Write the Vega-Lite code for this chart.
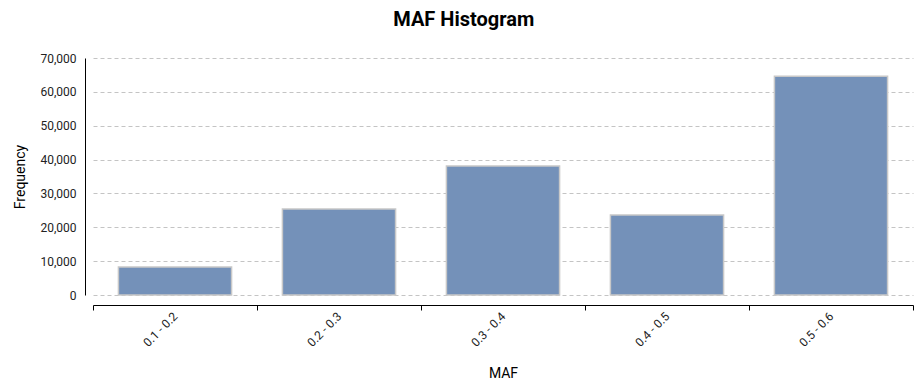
{
  "$schema": "https://vega.github.io/schema/vega-lite/v6.json",
  "width": 820,
  "height": 237,
  "autosize": "none",
  "padding": {"left": 93, "top": 58, "right": 11, "bottom": 96},
  "background": "white",
  "title": {"text": "MAF Histogram", "font": "Roboto", "fontSize": 20, "fontWeight": "bold", "color": "#000", "anchor": "middle", "frame": "bounds", "offset": 22},
  "data": {"values": [
    {"MAF": "0.1 - 0.2", "Frequency": 8250},
    {"MAF": "0.2 - 0.3", "Frequency": 25400},
    {"MAF": "0.3 - 0.4", "Frequency": 38100},
    {"MAF": "0.4 - 0.5", "Frequency": 23600},
    {"MAF": "0.5 - 0.6", "Frequency": 64600}
  ]},
  "mark": {"type": "bar", "color": "#7491b9", "stroke": "#c8c8c8", "strokeWidth": 1.5, "width": {"band": 0.69}},
  "encoding": {
    "x": {"field": "MAF", "type": "nominal", "sort": null,
      "scale": {"paddingInner": 0, "paddingOuter": 0},
      "axis": {"title": "MAF", "labelAngle": -45, "labelAlign": "right", "labelBaseline": "middle", "offset": 10, "tickBand": "extent", "tickSize": 5, "tickColor": "#000", "domainColor": "#000", "labelFont": "Roboto", "labelFontSize": 12, "labelColor": "#222", "titleFont": "Roboto", "titleFontSize": 14, "titleFontWeight": "normal", "titleColor": "#000", "titlePadding": 18, "labelPadding": 4}},
    "y": {"field": "Frequency", "type": "quantitative",
      "scale": {"domain": [0, 70000], "nice": false},
      "axis": {"title": "Frequency", "values": [0, 10000, 20000, 30000, 40000, 50000, 60000, 70000], "format": ",d", "offset": 8, "ticks": false, "labelPadding": 9, "domainColor": "#000", "grid": true, "gridColor": "#c4c4c4", "gridDash": [4, 3], "labelFont": "Roboto", "labelFontSize": 12, "labelColor": "#222", "titleFont": "Roboto", "titleFontSize": 14, "titleFontWeight": "normal", "titleColor": "#000", "titlePadding": 12}}
  },
  "config": {"view": {"stroke": null}}
}
